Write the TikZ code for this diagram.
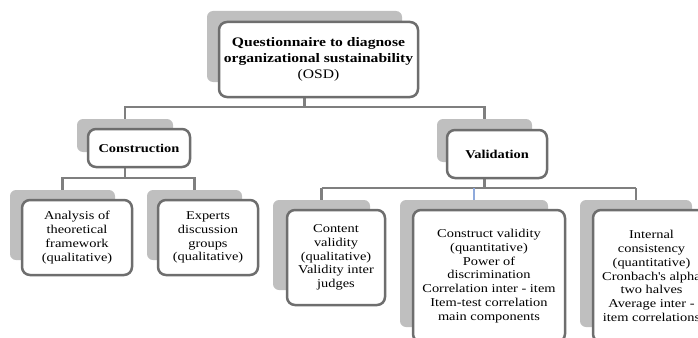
\documentclass[tikz,border=0pt]{standalone}
\usepackage{fontspec}
\setmainfont{Liberation Serif}[FakeStretch=1.2]
\begin{document}
\begin{tikzpicture}[x=1pt,y=-1pt,
  shadowbox/.style={rectangle,rounded corners=6pt,fill=shadowgray,draw=none,inner sep=0pt},
  mainbox/.style={rectangle,rounded corners=8pt,fill=white,draw=boxgray,line width=2.5pt,
    inner sep=0pt,align=center,font=\fontsize{12}{13.8}\selectfont},
  conn/.style={draw=linegray,line width=2.6pt},
  connblue/.style={draw=lineblue,line width=2.6pt}]
\definecolor{shadowgray}{HTML}{BFBFBF}
\definecolor{boxgray}{HTML}{6E6E6E}
\definecolor{linegray}{HTML}{7F7F7F}
\definecolor{lineblue}{HTML}{8FAADC}
\useasboundingbox (0,0) rectangle (698,337);
\clip (0,0) rectangle (698,337);

% shadow plates
\node[shadowbox,minimum width=195pt,minimum height=71pt] (s-top) at (304.5,46.5) {};
\node[shadowbox,minimum width=96pt,minimum height=33pt] (s-con) at (125,135.5) {};
\node[shadowbox,minimum width=95pt,minimum height=43pt] (s-val) at (484.5,140.5) {};
\node[shadowbox,minimum width=105pt,minimum height=70pt] (s-ana) at (62.5,225) {};
\node[shadowbox,minimum width=95pt,minimum height=70pt] (s-exp) at (194.5,225) {};
\node[shadowbox,minimum width=97pt,minimum height=90pt] (s-cnt) at (321.5,245) {};
\node[shadowbox,minimum width=148pt,minimum height=127pt] (s-cst) at (474,263.5) {};
\node[shadowbox,minimum width=112pt,minimum height=127pt] (s-int) at (636,263.5) {};

% bus levels
\coordinate (bus1) at (0,107);
\coordinate (bus2) at (0,178);
\coordinate (bus3) at (0,188);

% connectors
\draw[conn] (s-top.south) -- (s-top.south |- bus1) -| (s-con.north);
\draw[conn] (s-top.south |- bus1) -| (s-val.north);
\draw[conn] (s-con.south) -- (s-con.south |- bus2) -| (s-ana.north);
\draw[conn] (s-con.south |- bus2) -| (s-exp.north);
\draw[conn] (s-val.south) -- (s-val.south |- bus3);
\draw[conn] (s-cnt.north |- bus3) -- (s-int.north |- bus3);
\draw[conn] (s-cnt.north |- bus3) -- (s-cnt.north);
\draw[conn] (s-int.north |- bus3) -- (s-int.north);
\draw[connblue] (s-cst.north |- bus3) -- (s-cst.north);

% boxes
\node[mainbox,minimum width=199pt,minimum height=75pt,font=\fontsize{13}{16}\selectfont] (top) at (318.5,59.5)
  {\textbf{Questionnaire to diagnose}\\\textbf{organizational sustainability}\\(OSD)};
\node[mainbox,minimum width=102pt,minimum height=38pt] (con) at (139,148) {\textbf{Construction}};
\node[mainbox,minimum width=100pt,minimum height=48pt] (val) at (497,154) {\textbf{Validation}};
\node[mainbox,minimum width=110pt,minimum height=75pt] (ana) at (77,237.5)
  {Analysis of\\theoretical\\framework\\(qualitative)};
\node[mainbox,minimum width=100pt,minimum height=75pt] (exp) at (208,237.5)
  {Experts\\discussion\\groups\\(qualitative)};
\node[mainbox,minimum width=98pt,minimum height=95pt] (cnt) at (336,257.5)
  {Content\\validity\\(qualitative)\\Validity inter\\judges};
\node[mainbox,minimum width=152pt,minimum height=132pt] (cst) at (489,276)
  {Construct validity\\(quantitative)\\Power of\\discrimination\\Correlation inter - item\\Item-test correlation\\main components};
\node[mainbox,minimum width=117pt,minimum height=132pt] (int) at (651.5,276)
  {Internal\\consistency\\(quantitative)\\Cronbach\textquotesingle s alpha\\two halves\\Average inter -\\item correlations};
\end{tikzpicture}
\end{document}
